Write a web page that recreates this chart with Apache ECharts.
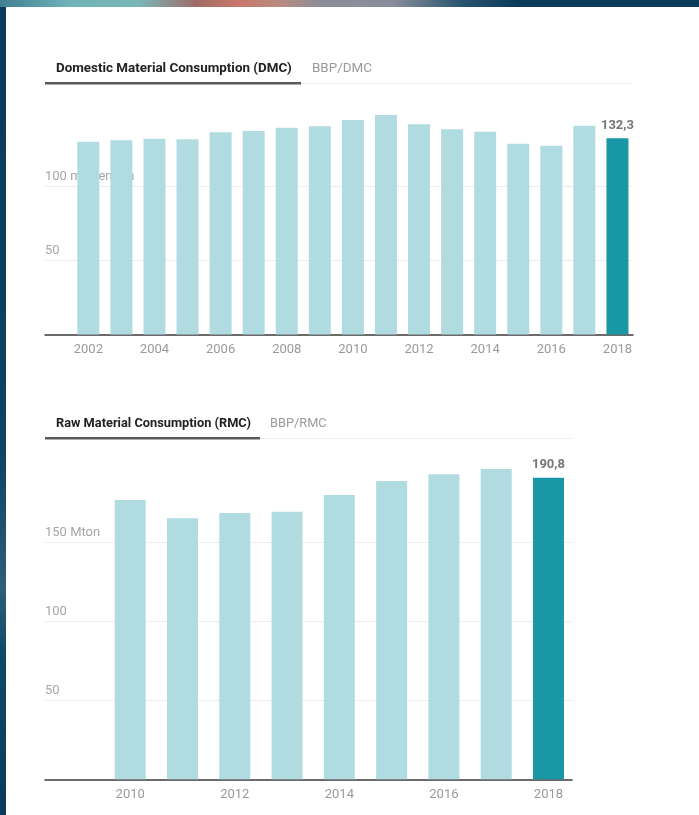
<!DOCTYPE html>
<html>
<head>
<meta charset="utf-8">
<script src="https://cdn.jsdelivr.net/npm/echarts@6/dist/echarts.min.js"></script>
<style>
  html, body { margin: 0; padding: 0; width: 699px; height: 815px; overflow: hidden; background: #0b3a5a; }
  #band { position: absolute; left: 0; top: 0; width: 699px; height: 7px;
    background: linear-gradient(90deg, #3f7f92 0%, #6fb3b8 10%, #7ab6b6 20%, #a06b66 28%, #c8776a 34%, #b98a80 40%, #8b8d99 46%, #8a8e9c 56%, #2a5570 66%, #0b3a5a 74%, #0b3a5a 100%); }
  #side { position: absolute; left: 0; top: 7px; width: 6px; height: 808px;
    background: linear-gradient(180deg, #0b3a5a 0%, #0e4363 55%, #2f5e78 72%, #0d4a68 80%, #0b3a5a 100%); }
  #panel { position: absolute; left: 6px; top: 7px; width: 693px; height: 808px; background: #ffffff; }
  #chart { position: absolute; left: 0; top: 0; width: 699px; height: 815px; }
</style>
</head>
<body>
<div id="band"></div>
<div id="side"></div>
<div id="panel"></div>
<div id="chart"></div>
<script>
// ---- Data ----
const dmcYears = [2002, 2003, 2004, 2005, 2006, 2007, 2008, 2009, 2010, 2011, 2012, 2013, 2014, 2015, 2016, 2017, 2018];
const dmcValues = [130.0, 130.9, 132.0, 131.6, 136.3, 137.2, 139.4, 140.4, 144.6, 148.0, 141.7, 138.4, 136.7, 128.6, 127.3, 140.8, 132.3];
const dmcTickYears = [2002, 2004, 2006, 2008, 2010, 2012, 2014, 2016, 2018];
const dmcYTicks = [50, 100];

const rmcYears = [2010, 2011, 2012, 2013, 2014, 2015, 2016, 2017, 2018];
const rmcValues = [176.7, 165.1, 168.5, 169.3, 179.9, 188.7, 193.0, 196.3, 190.8];
const rmcTickYears = [2010, 2012, 2014, 2016, 2018];
const rmcYTicks = [50, 100, 150];

const tabs1 = ['Domestic Material Consumption (DMC)', 'BBP/DMC'];
const tabs2 = ['Raw Material Consumption (RMC)', 'BBP/RMC'];

// ---- Styles ----
const LIGHT = '#b0dbe1';
const DARK = '#1a97a5';
const FONT = 'Roboto, "Noto Sans", sans-serif';

function barData(years, values) {
  return years.map((y, i) => {
    const last = i === years.length - 1;
    return {
      value: [y, values[i]],
      itemStyle: { color: last ? DARK : LIGHT },
      label: last ? {
        show: true, position: 'top', distance: 6,
        formatter: () => String(values[i]).replace('.', ','),
        color: '#777', fontWeight: 'bold', fontSize: 13, fontFamily: FONT
      } : { show: false }
    };
  });
}

const chart = echarts.init(document.getElementById('chart'), null, { renderer: 'canvas' });

function xAxisOpt(gridIndex, min, max, ticks) {
  return {
    type: 'value', gridIndex, min, max,
    axisLine: { show: true, lineStyle: { color: '#3a3a3a', width: 1.5 } },
    axisTick: { show: false, customValues: ticks },
    splitLine: { show: false },
    axisLabel: { customValues: ticks, color: '#999', fontSize: 13, fontFamily: FONT, margin: 9,
      formatter: v => String(v) }
  };
}
function yAxisOpt(gridIndex, max, ticks, unitMap) {
  return {
    type: 'value', gridIndex, min: 0, max,
    axisLine: { show: false },
    axisTick: { show: false, customValues: ticks },
    splitLine: { show: true, lineStyle: { color: '#ececec', width: 1 } },
    axisLabel: {
      customValues: ticks, inside: true, margin: 0, verticalAlign: 'bottom',
      padding: [0, 0, 3, 0], color: '#a6a6a6', fontSize: 13, fontFamily: FONT,
      formatter: v => (unitMap[v] !== undefined ? unitMap[v] : String(v))
    }
  };
}

function tabGraphics(y, tabs, x2, activeEnd, secondX, fs) {
  return [
    { type: 'text', left: 56, top: y - 8, z: 10,
      style: { text: tabs[0], font: 'bold ' + fs + 'px ' + FONT, fill: '#222' } },
    { type: 'text', left: secondX, top: y - 8, z: 10,
      style: { text: tabs[1], font: fs + 'px ' + FONT, fill: '#9a9a9a' } },
    { type: 'rect', shape: { x: 45, y: y + 13, width: x2 - 45, height: 1 }, z: 10,
      style: { fill: '#ececec' } },
    { type: 'rect', shape: { x: 45, y: y + 12, width: activeEnd - 45, height: 2.5 }, z: 11,
      style: { fill: '#5a5a5a' } }
  ];
}

const option = {
  animation: false,
  textStyle: { fontFamily: FONT },
  grid: [
    { left: 45, right: 66, top: 112, bottom: 480.5 },
    { left: 45, right: 127, top: 463.2, bottom: 35.7 }
  ],
  xAxis: [
    xAxisOpt(0, 2000.69, 2018.47, dmcTickYears),
    xAxisOpt(1, 2008.37, 2018.45, rmcTickYears)
  ],
  yAxis: [
    yAxisOpt(0, 150, dmcYTicks, { 100: '100 miljoen ton' }),
    yAxisOpt(1, 200, rmcYTicks, { 150: '150 Mton' })
  ],
  series: [
    { type: 'bar', xAxisIndex: 0, yAxisIndex: 0, barWidth: 22, data: barData(dmcYears, dmcValues) },
    { type: 'bar', xAxisIndex: 1, yAxisIndex: 1, barWidth: 31, data: barData(rmcYears, rmcValues) }
  ],
  graphic: [].concat(
    tabGraphics(70, tabs1, 633, 301, 312, 13.4),
    tabGraphics(425, tabs2, 572, 260, 270, 12.8)
  )
};
chart.setOption(option);
</script>
</body>
</html>
